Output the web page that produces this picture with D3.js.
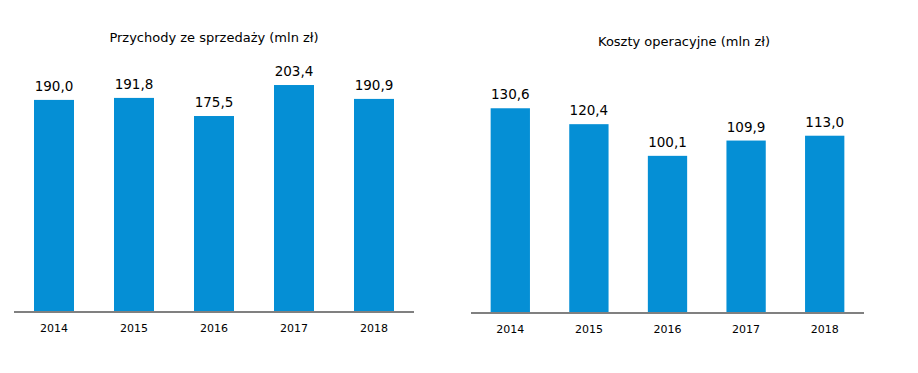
<!DOCTYPE html>
<html>
<head>
<meta charset="utf-8">
<script src="https://cdn.jsdelivr.net/npm/d3@7"></script>
<style>
  body { margin: 0; background: #fff; }
  text { font-family: "DejaVu Sans", Verdana, sans-serif; fill: #000; }
</style>
</head>
<body>
<div id="chart"></div>
<script>
const years = ["2014", "2015", "2016", "2017", "2018"];
const revenue = [190.0, 191.8, 175.5, 203.4, 190.9];
const costs = [130.6, 120.4, 100.1, 109.9, 113.0];
const revenueTitle = "Przychody ze sprzedaży (mln zł)";
const costsTitle = "Koszty operacyjne (mln zł)";

const W = 918, H = 373;
const fmt = v => v.toFixed(1).replace(".", ",");

const svg = d3.select("#chart").append("svg")
    .attr("width", W)
    .attr("height", H);

function drawPanel(cfg) {
    const g = svg.append("g");

    const x = d3.scaleBand().domain(years).range([cfg.x0, cfg.x1]).paddingInner(0.5).paddingOuter(0.25);
    const y = d3.scaleLinear().domain([0, cfg.max]).range([cfg.base, cfg.base - cfg.max * cfg.pxPerUnit]);

    g.selectAll("rect")
        .data(cfg.values)
        .enter().append("rect")
        .attr("x", (d, i) => x(years[i]))
        .attr("y", d => y(d))
        .attr("width", x.bandwidth())
        .attr("height", d => y(0) - y(d))
        .style("fill", "#058fd5");

    // value labels above bars
    g.selectAll("text.val")
        .data(cfg.values)
        .enter().append("text")
        .attr("class", "val")
        .attr("x", (d, i) => x(years[i]) + x.bandwidth() / 2)
        .attr("y", d => y(d) - 9)
        .attr("text-anchor", "middle")
        .style("font-size", "13.5px")
        .text(fmt);

    // baseline
    g.append("line")
        .attr("x1", cfg.x0).attr("x2", cfg.x1)
        .attr("y1", y(0) + 1).attr("y2", y(0) + 1)
        .style("stroke", "#808080")
        .style("stroke-width", 2);

    const xAxis = g.append("g")
        .attr("transform", `translate(0,${y(0)})`)
        .call(d3.axisBottom(x).tickSize(0).tickPadding(13));
    xAxis.select(".domain").remove();
    xAxis.selectAll("text")
        .style("font-family", "\"DejaVu Sans\", Verdana, sans-serif")
        .style("font-size", "11px")
        .style("fill", "#000");

    g.append("text")
        .attr("x", cfg.titleX)
        .attr("y", cfg.titleY)
        .attr("text-anchor", "middle")
        .style("font-size", "13px")
        .text(cfg.title);
}

drawPanel({values: revenue, title: revenueTitle, x0: 14, x1: 414, base: 311,
    max: 240, pxPerUnit: 1.111, titleX: 214, titleY: 42});
drawPanel({values: costs, title: costsTitle, x0: 471, x1: 864, base: 312,
    max: 160, pxPerUnit: 1.56, titleX: 684, titleY: 46});
</script>
</body>
</html>
